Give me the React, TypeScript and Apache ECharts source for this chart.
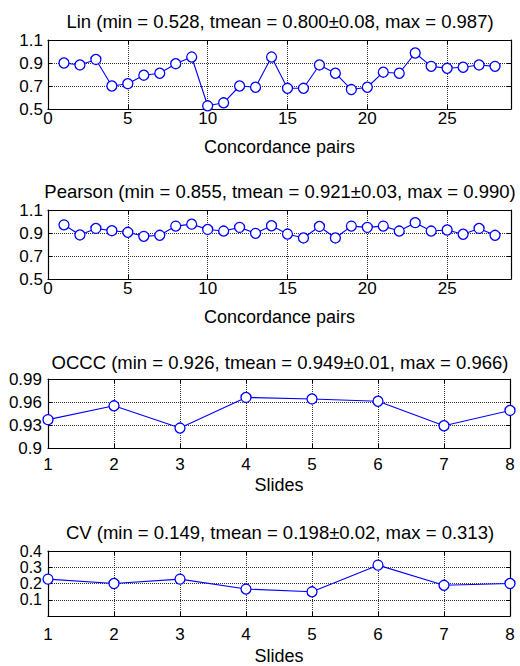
import React, { useEffect, useRef } from "react";
import * as echarts from "echarts";

const pairs = [1, 2, 3, 4, 5, 6, 7, 8, 9, 10, 11, 12, 13, 14, 15, 16, 17, 18, 19, 20, 21, 22, 23, 24, 25, 26, 27, 28];
const linValues = [0.9, 0.883, 0.931, 0.7, 0.72, 0.794, 0.811, 0.894, 0.952, 0.528, 0.554, 0.7, 0.689, 0.952, 0.68, 0.68, 0.883, 0.811, 0.669, 0.689, 0.82, 0.811, 0.987, 0.871, 0.854, 0.863, 0.883, 0.871];
const pearsonValues = [0.971, 0.883, 0.94, 0.92, 0.906, 0.871, 0.88, 0.96, 0.977, 0.931, 0.917, 0.949, 0.897, 0.963, 0.891, 0.857, 0.957, 0.857, 0.96, 0.949, 0.96, 0.917, 0.99, 0.917, 0.926, 0.889, 0.94, 0.88];
const slides = [1, 2, 3, 4, 5, 6, 7, 8];
const occcValues = [0.937, 0.955, 0.926, 0.966, 0.964, 0.961, 0.929, 0.949];
const cvValues = [0.227, 0.2, 0.227, 0.166, 0.149, 0.313, 0.189, 0.2];

const titles = [
  "Lin (min = 0.528, tmean = 0.800±0.08, max = 0.987)",
  "Pearson (min = 0.855, tmean = 0.921±0.03, max = 0.990)",
  "OCCC (min = 0.926, tmean = 0.949±0.01, max = 0.966)",
  "CV (min = 0.149, tmean = 0.198±0.02, max = 0.313)",
];
const xNames = ["Concordance pairs", "Concordance pairs", "Slides", "Slides"];

const FONT = "'Liberation Sans', Arial, Helvetica, sans-serif";

export default function App() {
  const ref = useRef<HTMLDivElement>(null);
  useEffect(() => {
    if (!ref.current) return;
    const chart = echarts.init(ref.current, null, { renderer: "svg" });

    const panels = [
      { grid: { left: 48, top: 40, width: 463, height: 69 }, xs: pairs, ys: linValues, xmin: 0, xmax: 29, xint: 5, ymin: 0.5, ymax: 1.1, yint: 0.2, titleY: 12, xLabelMargin: 1, yLabelMargin: 5, yFont: 17, nameGap: 29 },
      { grid: { left: 48, top: 210, width: 463, height: 69 }, xs: pairs, ys: pearsonValues, xmin: 0, xmax: 29, xint: 5, ymin: 0.5, ymax: 1.1, yint: 0.2, titleY: 182, xLabelMargin: 1, yLabelMargin: 5, yFont: 17, nameGap: 29 },
      { grid: { left: 48, top: 379, width: 462, height: 69 }, xs: slides, ys: occcValues, xmin: 1, xmax: 8, xint: 1, ymin: 0.9, ymax: 0.99, yint: 0.03, titleY: 353, xLabelMargin: 8, yLabelMargin: 6, yFont: 17, nameGap: 28 },
      { grid: { left: 48, top: 551, width: 462, height: 67 }, xs: slides, ys: cvValues, xmin: 1, xmax: 8, xint: 1, ymin: 0, ymax: 0.4, yint: 0.1, titleY: 523, xLabelMargin: 10, yLabelMargin: 6, yFont: 16, nameGap: 31 },
    ];

    const axisLine = { show: true, onZero: false, lineStyle: { color: "#000", width: 1.2 } };
    const axisTick = { show: true, inside: true, length: 4, lineStyle: { color: "#000", width: 1 } };
    const splitLine = { show: true, lineStyle: { color: "#333", type: [1, 1] as any, width: 1 } };
    const labelStyle = { color: "#000", fontFamily: FONT, fontSize: 17 };

    const grid: any[] = [];
    const xAxis: any[] = [];
    const yAxis: any[] = [];
    const series: any[] = [];
    const title: any[] = [];

    panels.forEach((p, i) => {
      grid.push({ ...p.grid, show: true, backgroundColor: "#fff", borderWidth: 0 });
      xAxis.push({
        type: "value", gridIndex: i, position: "bottom", min: p.xmin, max: p.xmax, interval: p.xint,
        axisLine, axisTick, splitLine,
        axisLabel: {
          ...labelStyle, margin: p.xLabelMargin, showMinLabel: true, showMaxLabel: true, hideOverlap: false,
          formatter: (v: number) => (Math.abs(((v - p.xmin) / p.xint) - Math.round((v - p.xmin) / p.xint)) < 1e-6 ? String(v) : ""),
        },
        name: xNames[i], nameLocation: "middle", nameGap: p.nameGap,
        nameTextStyle: { color: "#000", fontFamily: FONT, fontSize: 18 },
      });
      xAxis.push({
        type: "value", gridIndex: i, position: "top", min: p.xmin, max: p.xmax, interval: p.xint,
        axisLine, axisTick, splitLine: { show: false }, axisLabel: { show: false },
      });
      yAxis.push({
        type: "value", gridIndex: i, position: "left", min: p.ymin, max: p.ymax, interval: p.yint,
        axisLine, axisTick, splitLine,
        axisLabel: {
          ...labelStyle, fontSize: p.yFont, margin: p.yLabelMargin, showMinLabel: true, showMaxLabel: true, hideOverlap: false,
          formatter: (v: number) => (v === 0 ? "" : String(Math.round(v * 1000) / 1000)),
        },
      });
      yAxis.push({
        type: "value", gridIndex: i, position: "right", min: p.ymin, max: p.ymax, interval: p.yint,
        axisLine, axisTick, splitLine: { show: false }, axisLabel: { show: false },
      });
      series.push({
        type: "line",
        xAxisIndex: 2 * i,
        yAxisIndex: 2 * i,
        data: p.xs.map((x, k) => [x, p.ys[k]]),
        symbol: "circle",
        symbolSize: 10,
        clip: false,
        itemStyle: { color: "#fff", borderColor: "#0000ff", borderWidth: 1.3 },
        lineStyle: { color: "#0000ff", width: 1.1 },
        z: 5,
      });
      title.push({
        text: titles[i], left: 280, top: p.titleY, textAlign: "center", padding: 0,
        textStyle: { color: "#000", fontFamily: FONT, fontSize: 18.5, fontWeight: "normal" },
      });
    });

    chart.setOption({
      animation: false,
      backgroundColor: "#fff",
      title,
      grid,
      xAxis,
      yAxis,
      series,
    });
    return () => chart.dispose();
  }, []);
  return <div ref={ref} style={{ position: "absolute", left: 0, top: 0, width: 520, height: 666 }} />;
}
